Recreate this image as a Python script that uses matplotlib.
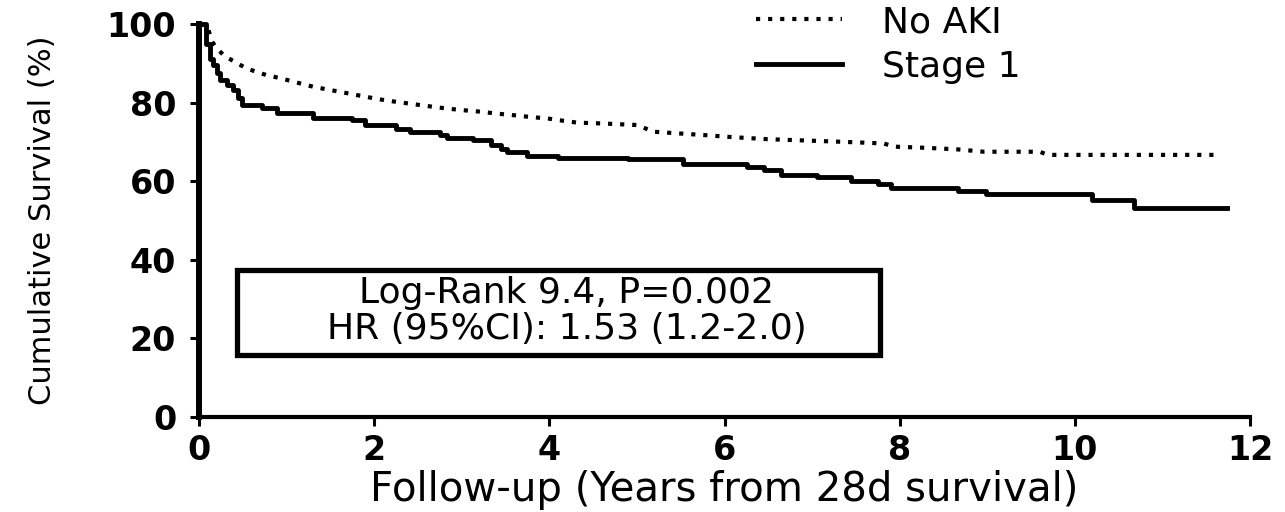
import matplotlib
matplotlib.use("Agg")
import matplotlib.pyplot as plt
from matplotlib.patches import Rectangle

plt.rcParams['font.family'] = ['DejaVu Sans']

# Kaplan-Meier estimates (years, % surviving)
no_aki_t = [0.00, 0.10, 0.15, 0.20, 0.30, 0.40, 0.54, 0.77, 0.93, 1.10, 1.31, 1.50,
            1.69, 1.90, 2.07, 2.25, 2.45, 2.65, 2.83, 3.00, 3.21, 3.40, 3.59, 3.80,
            3.97, 4.15, 4.32, 4.60, 5.00, 5.19, 5.45, 5.73, 6.10, 6.49, 7.00, 7.50,
            7.82, 7.93, 8.30, 8.66, 8.96, 9.60, 9.69, 11.63]
no_aki_s = [100, 99.0, 95.5, 93.8, 91.7, 90.5, 88.7, 87.0, 86.2, 85.2, 84.0, 83.2,
            82.4, 81.5, 80.8, 80.2, 79.6, 79.0, 78.5, 78.1, 77.7, 77.2, 76.8, 76.3,
            76.0, 75.4, 74.9, 74.7, 74.3, 72.6, 72.2, 71.8, 71.2, 70.7, 70.3, 69.9,
            69.6, 68.8, 68.5, 68.1, 67.5, 67.5, 66.7, 66.7]

stage1_t = [0.00, 0.08, 0.12, 0.16, 0.20, 0.24, 0.32, 0.39, 0.44, 0.49, 0.72, 0.89,
            1.30, 1.75, 1.90, 2.25, 2.41, 2.75, 2.83, 3.13, 3.33, 3.45, 3.52, 3.75,
            4.10, 4.90, 5.52, 6.26, 6.45, 6.64, 7.06, 7.44, 7.75, 7.90, 8.66, 8.98,
            10.20, 10.68, 11.74]
stage1_s = [100, 95.0, 91.0, 89.6, 87.5, 85.8, 84.5, 83.2, 81.3, 79.4, 78.6, 77.3,
            76.0, 75.6, 74.3, 73.4, 72.6, 71.8, 70.9, 70.5, 69.2, 68.3, 67.5, 66.4,
            66.0, 65.6, 64.4, 63.7, 62.8, 61.6, 61.0, 60.1, 59.3, 58.4, 57.6, 56.7,
            55.2, 53.1, 53.1]

labels = ['No AKI', 'Stage 1']
x_ticks = [0, 2, 4, 6, 8, 10, 12]
y_ticks = [0, 20, 40, 60, 80, 100]
stats_text = 'Log-Rank 9.4, P=0.002\nHR (95%CI): 1.53 (1.2-2.0)'

fig = plt.figure(figsize=(12.85, 5.12), dpi=100)
ax = fig.add_axes([0.1549, 0.1855, 0.8179, 0.7676])

ax.plot(no_aki_t, no_aki_s, color='black', lw=3, linestyle=(0, (1, 1.9)),
        label=labels[0], clip_on=False)
ax.plot(stage1_t, stage1_s, color='black', lw=3.5, drawstyle='steps-post',
        label=labels[1], clip_on=False)

ax.set_xlim(0, 12)
ax.set_ylim(0, 100)
ax.set_xticks(x_ticks)
ax.set_yticks(y_ticks)
for s in ['top', 'right']:
    ax.spines[s].set_visible(False)
ax.spines['left'].set_linewidth(4.3)
ax.spines['bottom'].set_linewidth(3)
ax.tick_params(axis='both', direction='out', length=6.5, width=2.2,
               labelsize=24)
ax.tick_params(axis='y', pad=10)
ax.tick_params(axis='x', pad=6)
for lab in ax.get_xticklabels() + ax.get_yticklabels():
    lab.set_fontweight('bold')

ax.set_xlabel('Follow-up (Years from 28d survival)', fontsize=29, labelpad=2)
ax.set_ylabel('Cumulative Survival (%)', fontsize=22, labelpad=36)

# stats box
ax.add_patch(Rectangle((0.43, 15.8), 7.35, 21.6, fill=False, edgecolor='black',
                       lw=3.8, clip_on=False))
ax.text(4.2, 27.0, stats_text, ha='center', va='center', fontsize=26,
        multialignment='center', linespacing=1.05)

leg = ax.legend(loc='upper left', bbox_to_anchor=(0.588, 0.99),
                bbox_transform=fig.transFigure, frameon=False, fontsize=26,
                handlelength=2.4, handletextpad=1.1, labelspacing=0.3,
                borderpad=0, borderaxespad=0)

fig.savefig('out.png', dpi=100)
